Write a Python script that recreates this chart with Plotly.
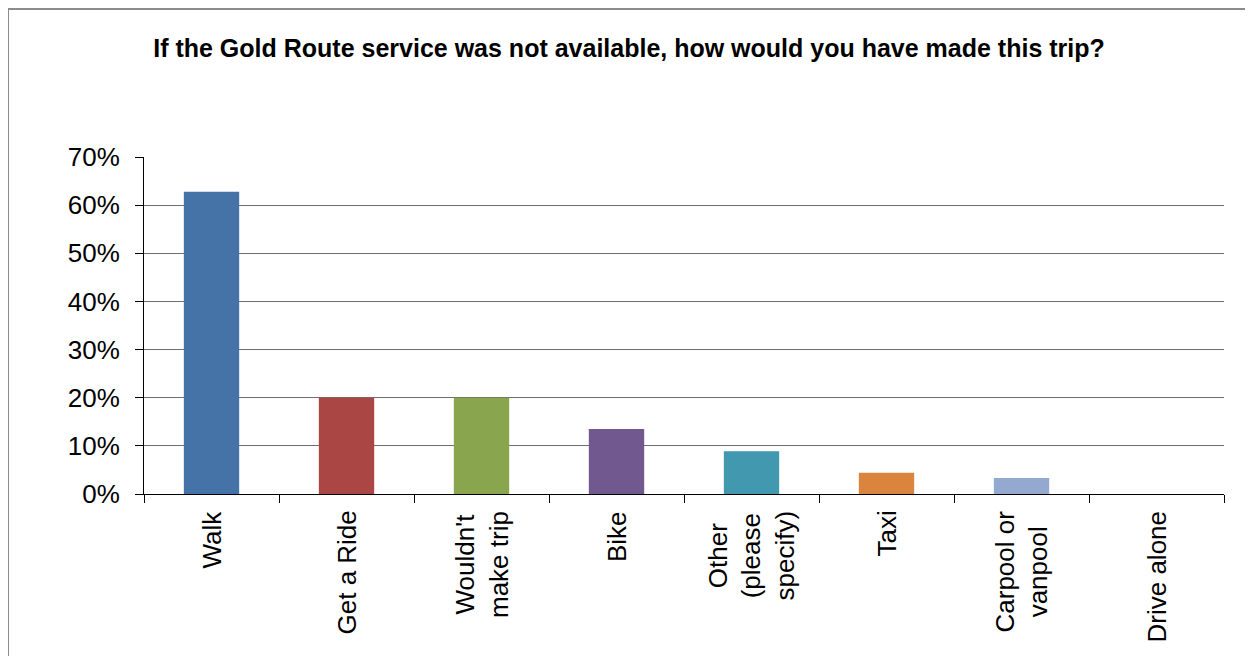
import plotly.graph_objects as go

categories = ["Walk", "Get a Ride", "Wouldn't make trip", "Bike", "Other (please specify)", "Taxi", "Carpool or vanpool", "Drive alone"]
label_texts = ["Walk", "Get a Ride", "Wouldn't<br>make trip", "Bike", "Other<br>(please<br>specify)", "Taxi", "Carpool or<br>vanpool", "Drive alone"]
values = [0.628, 0.200, 0.200, 0.135, 0.089, 0.044, 0.033, 0.0]
colors = ["#4572A7", "#AA4643", "#89A54E", "#71588F", "#4198AF", "#DB843D", "#93A9CF", "#A47D7C"]
y_ticks = [0, 0.1, 0.2, 0.3, 0.4, 0.5, 0.6, 0.7]
y_tick_labels = ["0%", "10%", "20%", "30%", "40%", "50%", "60%", "70%"]
title = "If the Gold Route service was not available, how would you have made this trip?"

# page is rendered with an 8px body margin
W, H = 1245, 648
L, R, T, B = 136, 29, 149, 162
pw, ph = W - L - R, H - T - B

fig = go.Figure(go.Bar(x=categories, y=values, marker=dict(color=colors, line=dict(width=0)), width=0.41))

annotations = [
    dict(x=c, y=0, xref="x", yref="y", text=t, showarrow=False, textangle=-90,
         xanchor="center", yanchor="top", yshift=-15, align="center",
         font=dict(size=26, color="black", family="Liberation Sans, Arial, sans-serif"))
    for c, t in zip(categories, label_texts)
]

fig.update_layout(
    width=W, height=H,
    margin=dict(l=L, r=R, t=T, b=B),
    paper_bgcolor="white", plot_bgcolor="white",
    font=dict(family="Liberation Sans, Arial, sans-serif", color="black"),
    showlegend=False,
    title=dict(text="<b>" + title + "</b>", x=621 / W, xanchor="center", y=1 - 40 / H, yanchor="middle",
               font=dict(size=25, family="Liberation Sans, Arial", color="black")),
    xaxis=dict(type="category", ticks="outside", tickson="boundaries", ticklen=8,
               tickcolor="black", showline=True, linecolor="black", linewidth=1,
               showticklabels=False, showgrid=False, range=[-0.5, 7.5]),
    yaxis=dict(range=[0, 0.7], tickvals=y_ticks, ticktext=y_tick_labels, ticks="outside", ticklen=8,
               tickcolor="black", showline=True, linecolor="black", linewidth=1, ticklabelstandoff=10,
               showgrid=True, gridcolor="#6e6e6e", gridwidth=1, tickfont=dict(size=26), zeroline=False),
    annotations=annotations,
    shapes=[dict(type="rect", xref="paper", yref="paper",
                 x0=(0 - L) / pw, x1=(W + 20 - L) / pw,
                 y0=-(H + 20 - T - ph) / ph, y1=(H - B - 1) / ph,
                 line=dict(color="#8c8c8c", width=2))],
)

fig.write_html("out.html")
